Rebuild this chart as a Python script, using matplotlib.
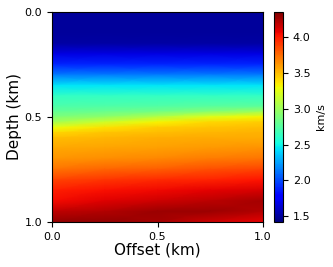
import numpy as np
import matplotlib
matplotlib.use("Agg")
import matplotlib.pyplot as plt

# velocity model (km/s) at a coarse grid of nodes
offsets = [0.0, 0.25, 0.5, 0.75, 1.0]
depths = [0.00, 0.05, 0.10, 0.15, 0.20, 0.25, 0.30, 0.35, 0.40, 0.45,
          0.475, 0.50, 0.525, 0.55, 0.575, 0.60,
          0.65, 0.70, 0.75, 0.80, 0.85, 0.90, 0.95, 1.00]
velocity = [
    [1.50, 1.50, 1.50, 1.50, 1.50],
    [1.50, 1.50, 1.50, 1.50, 1.50],
    [1.50, 1.50, 1.50, 1.50, 1.50],
    [1.52, 1.52, 1.52, 1.52, 1.52],
    [1.68, 1.68, 1.68, 1.68, 1.68],
    [1.90, 1.90, 1.90, 1.90, 1.90],
    [2.15, 2.15, 2.15, 2.15, 2.15],
    [2.45, 2.45, 2.45, 2.45, 2.45],
    [2.63, 2.63, 2.63, 2.63, 2.63],
    [2.72, 2.73, 2.74, 2.76, 2.78],
    [2.80, 2.82, 2.86, 2.93, 3.02],
    [2.90, 2.96, 3.08, 3.25, 3.32],
    [3.03, 3.18, 3.32, 3.42, 3.45],
    [3.28, 3.38, 3.45, 3.48, 3.50],
    [3.42, 3.48, 3.50, 3.52, 3.53],
    [3.50, 3.52, 3.54, 3.55, 3.56],
    [3.57, 3.58, 3.59, 3.61, 3.63],
    [3.62, 3.65, 3.67, 3.70, 3.73],
    [3.73, 3.77, 3.80, 3.84, 3.88],
    [3.88, 3.92, 3.95, 3.98, 4.02],
    [3.99, 4.03, 4.06, 4.09, 4.13],
    [4.05, 4.10, 4.15, 4.20, 4.25],
    [4.18, 4.22, 4.28, 4.28, 4.22],
    [4.30, 4.30, 4.25, 4.15, 4.08],
]
vmin, vmax = 1.42, 4.35

fig = plt.figure(figsize=(3.33, 2.67), dpi=100)
ax = fig.add_axes([0.156, 0.169, 0.634, 0.786])
cax = fig.add_axes([0.823, 0.169, 0.027, 0.786])

im = ax.pcolormesh(offsets, depths, np.array(velocity), cmap="jet",
                   shading="gouraud", vmin=vmin, vmax=vmax)
ax.set_xlim(0, 1)
ax.set_ylim(1, 0)
ax.set_xticks([0, 0.5, 1.0])
ax.set_yticks([0, 0.5, 1.0])
ax.tick_params(labelsize=8)
ax.set_xlabel("Offset (km)", fontsize=11, labelpad=1)
ax.set_ylabel("Depth (km)", fontsize=11, labelpad=2)

cbar = fig.colorbar(im, cax=cax)
cbar.set_ticks([1.5, 2.0, 2.5, 3.0, 3.5, 4.0])
cbar.ax.tick_params(labelsize=8)
cbar.set_label("km/s", fontsize=8)

fig.savefig("out.png", dpi=100)
